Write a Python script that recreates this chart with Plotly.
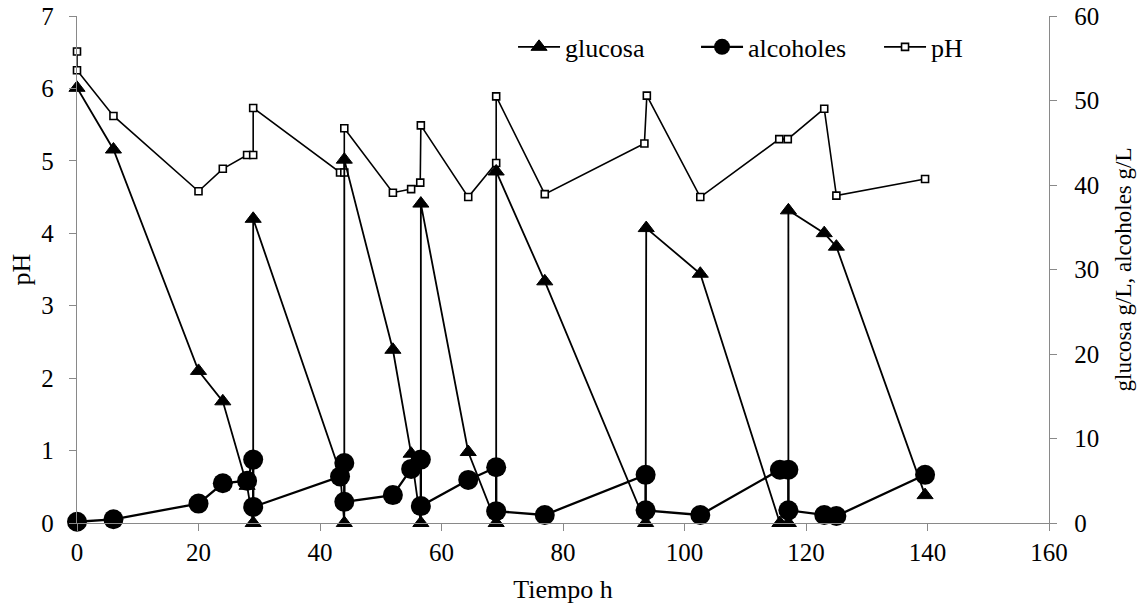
import plotly.graph_objects as go

# ---- data ----
t_ph = [0, 0, 6, 20, 24, 28, 29, 29, 43.3, 44, 44, 52, 55, 56.5, 56.6, 64.4, 69, 69,
        77, 93.4, 93.8, 102.6, 115.6, 117, 123, 125, 139.6]
ph = [6.51, 6.25, 5.62, 4.58, 4.89, 5.08, 5.08, 5.73, 4.84, 4.84, 5.45, 4.56, 4.61, 4.70,
      5.49, 4.50, 4.97, 5.89, 4.54, 5.24, 5.90, 4.50, 5.30, 5.30, 5.72, 4.52, 4.75]

t_gl = [0, 6, 20, 24, 28, 29, 29, 43.3, 44, 44, 52, 55, 56.6, 56.6, 64.4, 69, 69, 77,
        93.6, 93.7, 102.6, 115.7, 117.1, 117.1, 123, 125, 139.6]
glucosa = [51.5, 44.2, 18.0, 14.4, 4.4, 0, 36.0, 6.0, 0, 43.0, 20.5, 8.2, 0, 37.8, 8.4,
           0, 41.6, 28.6, 0, 34.9, 29.5, 0, 0, 37.0, 34.3, 32.7, 3.3]

t_al = [0, 6, 20, 24, 28, 29, 29, 43.3, 44, 44, 52, 55, 56.6, 56.6, 64.4, 69, 69, 77,
        93.6, 93.6, 102.6, 115.7, 117.1, 117.1, 123, 125, 139.6]
alcoholes = [0.15, 0.44, 2.3, 4.7, 5.0, 7.5, 1.9, 5.5, 7.1, 2.5, 3.3, 6.4, 7.5, 2.0, 5.1,
             6.6, 1.4, 0.95, 5.7, 1.5, 0.95, 6.3, 6.3, 1.5, 0.95, 0.83, 5.7]

x_ticks = [0, 20, 40, 60, 80, 100, 120, 140, 160]
ph_ticks = [0, 1, 2, 3, 4, 5, 6, 7]
g_ticks = [0, 10, 20, 30, 40, 50, 60]

FONT = "Liberation Serif"
AX = "#898989"

fig = go.Figure()
fig.add_trace(go.Scatter(
    x=t_gl, y=glucosa, name="glucosa", yaxis="y2", mode="lines+markers",
    line=dict(color="black", width=1.8),
    marker=dict(symbol="triangle-up", size=14, color="black", line=dict(color="black", width=1)),
    cliponaxis=False))
fig.add_trace(go.Scatter(
    x=t_al, y=alcoholes, name="alcoholes", yaxis="y2", mode="lines+markers",
    line=dict(color="black", width=2.3),
    marker=dict(symbol="circle", size=20, color="black"),
    cliponaxis=False))
fig.add_trace(go.Scatter(
    x=t_ph, y=ph, name="pH", yaxis="y", mode="lines+markers",
    line=dict(color="black", width=1.6),
    marker=dict(symbol="square", size=7, color="white", line=dict(color="black", width=1.6)),
    cliponaxis=False))

axis_common = dict(showline=True, linecolor=AX, linewidth=1.3, ticks="outside", ticklen=7,
                   tickcolor=AX, tickwidth=1.3, showgrid=False, zeroline=False,
                   tickfont=dict(family=FONT, size=25, color="black"))

fig.update_layout(
    width=1148, height=613, autosize=False,
    margin=dict(l=77, r=99, t=16, b=90, autoexpand=False),
    paper_bgcolor="white", plot_bgcolor="white",
    font=dict(family=FONT, color="black"),
    showlegend=True,
    legend=dict(orientation="h", x=0.4486, y=0.939, xanchor="left", yanchor="middle",
                font=dict(family=FONT, size=26, color="black"),
                bgcolor="rgba(0,0,0,0)", itemwidth=42,
                entrywidth=126, entrywidthmode="pixels"),
    xaxis=dict(range=[0, 160], tickvals=x_ticks,
               title=dict(text="Tiempo h", font=dict(family=FONT, size=26), standoff=14),
               **axis_common),
    yaxis=dict(range=[0, 7], tickvals=ph_ticks, ticklabelstandoff=10,
               title=dict(text="pH", font=dict(family=FONT, size=26), standoff=3),
               **axis_common),
    yaxis2=dict(range=[0, 60], tickvals=g_ticks, overlaying="y", side="right",
                ticklabelstandoff=12,
                title=dict(text="glucosa g/L, alcoholes g/L", font=dict(family=FONT, size=23), standoff=16),
                **axis_common),
)

fig.write_html("out.html")
